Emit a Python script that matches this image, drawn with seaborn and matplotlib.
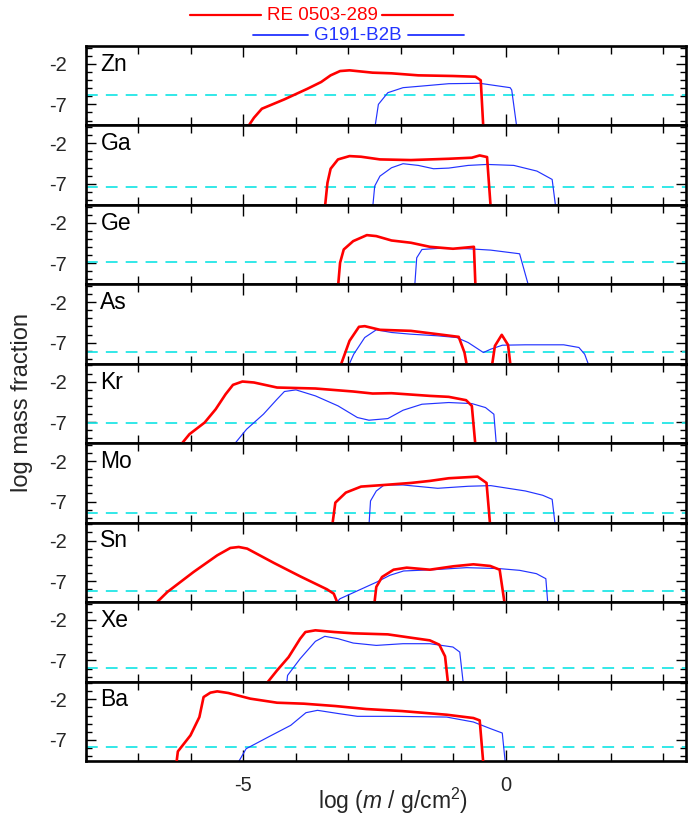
import numpy as np
import pandas as pd
import matplotlib
matplotlib.use("Agg")
import matplotlib.pyplot as plt
from matplotlib.lines import Line2D
from matplotlib.ticker import MultipleLocator, FixedLocator
import seaborn as sns

sns.set_theme(style="white")
plt.rcParams['font.family'] = ['Liberation Sans', 'DejaVu Sans']
plt.rcParams['axes.unicode_minus'] = False
plt.rcParams['mathtext.fontset'] = 'custom'
plt.rcParams['mathtext.rm'] = 'Liberation Sans'
plt.rcParams['mathtext.it'] = 'Liberation Sans:italic'

elements = ["Zn", "Ga", "Ge", "As", "Kr", "Mo", "Sn", "Xe", "Ba"]
solar = [-5.85, -7.35, -6.85, -8.15, -7.1, -8.4, -8.23, -7.94, -7.92]
star_names = ["RE 0503-289", "G191-B2B"]
yticks = [-2, -7]
xticks = [-5, 0]

# RE 0503-289 (red)
zn_re_x = [-4.94, -4.8, -4.65, -4.22, -3.78, -3.52, -3.34, -3.16, -2.98, -2.54, -2.18, -1.67, -1.01, -0.58, -0.48, -0.43]
zn_re_y = [-10, -8.65, -7.54, -6.38, -5.07, -4.24, -3.42, -2.89, -2.8, -3.09, -3.17, -3.42, -3.5, -3.59, -4.04, -10]
ga_re_x = [-3.45, -3.4, -3.34, -3.2, -2.98, -2.76, -2.4, -1.81, -1.09, -0.65, -0.5, -0.36, -0.29]
ga_re_y = [-10, -6.87, -5.14, -3.99, -3.58, -3.66, -3.99, -4.07, -3.91, -3.78, -3.5, -3.7, -10]
ge_re_x = [-3.2, -3.16, -3.09, -2.91, -2.65, -2.47, -2.18, -1.81, -1.45, -1.01, -0.61, -0.58]
ge_re_y = [-10, -6.94, -5.3, -4.27, -3.53, -3.65, -4.19, -4.47, -4.97, -5.21, -4.97, -10]
as_re_x = [-3.16, -2.98, -2.8, -2.69, -2.4, -1.81, -1.3, -0.9, -0.79, -0.74, -0.27, -0.21, -0.08, 0.04, 0.09]
as_re_y = [-10, -6.77, -5.04, -4.96, -5.41, -5.54, -5.95, -6.28, -8.21, -10, -10, -7.39, -6.03, -7.27, -10]
kr_re_x = [-6.22, -6.03, -5.74, -5.53, -5.34, -5.2, -5.02, -4.8, -4.36, -3.63, -2.91, -2.54, -2.18, -1.45, -1.09, -0.76, -0.65, -0.58]
kr_re_y = [-10, -8.49, -7.05, -5.41, -3.55, -2.4, -1.99, -2.11, -2.73, -2.85, -3.22, -3.47, -3.43, -3.76, -3.88, -4.29, -4.99, -10]
mo_re_x = [-3.31, -3.25, -3.05, -2.76, -2.32, -1.81, -1.45, -1.09, -0.54, -0.37, -0.3]
mo_re_y = [-10, -7.13, -5.89, -5.15, -4.95, -4.7, -4.45, -4.12, -3.92, -4.7, -10]
sn_re_x = [-6.71, -6.45, -5.95, -5.5, -5.25, -5.09, -4.93, -4.42, -3.92, -3.41, -3.28, -3.19,
           -2.51, -2.47, -2.36, -2.14, -1.89, -1.45, -1.0, -0.62, -0.3, -0.12, -0.02]
sn_re_y = [-10, -8.35, -5.88, -3.83, -2.92, -2.8, -3.0, -4.77, -6.42, -8.02, -8.56, -10,
           -10, -7.73, -6.5, -5.6, -5.35, -5.6, -5.18, -4.94, -5.14, -5.6, -10]
xe_re_x = [-4.58, -4.36, -4.14, -3.92, -3.82, -3.63, -3.27, -2.91, -2.25, -1.81, -1.45, -1.27, -1.16, -1.1]
xe_re_y = [-10, -8.22, -6.58, -4.31, -3.49, -3.28, -3.49, -3.65, -3.78, -4.19, -4.52, -5.05, -6.49, -10]
ba_re_x = [-6.28, -6.25, -6.01, -5.84, -5.76, -5.63, -5.5, -5.29, -4.87, -4.36, -3.85, -3.25, -2.66, -1.98, -1.13, -0.62, -0.5, -0.43]
ba_re_y = [-10, -8.42, -6.44, -4.18, -1.71, -1.17, -1.01, -1.21, -1.91, -2.41, -2.53, -2.82, -3.19, -3.44, -3.89, -4.3, -4.59, -10]

# G191-B2B (blue)
zn_g1_x = [-2.5, -2.43, -2.25, -1.96, -1.6, -1.09, -0.5, 0.08, 0.11, 0.21]
zn_g1_y = [-10, -7.0, -5.56, -4.94, -4.74, -4.45, -4.4, -4.94, -5.23, -10]
ga_g1_x = [-2.54, -2.5, -2.4, -2.18, -1.96, -1.67, -1.38, -1.09, -0.72, -0.36, 0.15, 0.59, 0.88, 0.95]
ga_g1_y = [-10, -7.28, -6.05, -5.02, -4.52, -4.73, -5.14, -5.06, -4.73, -4.61, -4.73, -5.43, -6.46, -10]
ge_g1_x = [-1.74, -1.7, -1.6, -1.3, -0.72, -0.29, 0.26, 0.44]
ge_g1_y = [-10, -6.33, -5.3, -5.17, -5.21, -5.38, -5.83, -10]
as_g1_x = [-3.01, -2.9, -2.69, -2.47, -2.18, -1.81, -1.3, -0.94, -0.72, -0.43, -0.29, -0.07, 0.37, 1.1, 1.39, 1.5, 1.59]
as_g1_y = [-10, -8.42, -6.36, -5.41, -5.74, -5.95, -6.15, -6.36, -6.98, -8.21, -7.8, -7.31, -7.26, -7.26, -7.59, -8.42, -10]
kr_g1_x = [-5.21, -4.94, -4.62, -4.36, -4.22, -4.0, -3.63, -3.2, -2.83, -2.61, -2.25, -1.96, -1.6, -1.09, -0.65, -0.39, -0.23, -0.18]
kr_g1_y = [-10, -7.87, -6.02, -4.17, -3.22, -3.02, -3.76, -4.99, -6.43, -6.76, -6.56, -5.53, -4.79, -4.58, -4.71, -5.2, -6.02, -10]
mo_g1_x = [-2.61, -2.58, -2.47, -2.32, -1.96, -1.3, -0.72, -0.29, 0.37, 0.7, 0.88, 0.94]
mo_g1_y = [-10, -6.92, -5.69, -4.95, -4.95, -5.36, -5.11, -5.03, -5.69, -6.22, -6.72, -10]
sn_g1_x = [-3.28, -3.16, -2.46, -2.21, -1.95, -1.38, -0.75, -0.12, 0.26, 0.58, 0.76, 0.8]
sn_g1_y = [-10, -9.18, -7.12, -6.29, -5.76, -5.6, -5.35, -5.47, -5.68, -6.09, -6.71, -10]
xe_g1_x = [-4.18, -4.16, -3.92, -3.63, -3.45, -3.2, -2.91, -2.47, -1.96, -1.45, -1.01, -0.88, -0.81]
xe_g1_y = [-10, -8.84, -6.78, -4.64, -4.02, -4.31, -4.85, -5.14, -4.93, -4.93, -5.34, -5.96, -10]
ba_g1_x = [-5.12, -4.95, -4.53, -4.1, -3.81, -3.59, -3.17, -2.83, -2.15, -1.13, -0.62, -0.29, -0.07, -0.01]
ba_g1_y = [-10, -8.09, -6.65, -5.2, -3.64, -3.35, -3.77, -4.09, -4.09, -4.18, -4.79, -5.62, -6.15, -10]

re_data = {"Zn": (zn_re_x, zn_re_y), "Ga": (ga_re_x, ga_re_y), "Ge": (ge_re_x, ge_re_y),
           "As": (as_re_x, as_re_y), "Kr": (kr_re_x, kr_re_y), "Mo": (mo_re_x, mo_re_y),
           "Sn": (sn_re_x, sn_re_y), "Xe": (xe_re_x, xe_re_y), "Ba": (ba_re_x, ba_re_y)}
g1_data = {"Zn": (zn_g1_x, zn_g1_y), "Ga": (ga_g1_x, ga_g1_y), "Ge": (ge_g1_x, ge_g1_y),
           "As": (as_g1_x, as_g1_y), "Kr": (kr_g1_x, kr_g1_y), "Mo": (mo_g1_x, mo_g1_y),
           "Sn": (sn_g1_x, sn_g1_y), "Xe": (xe_g1_x, xe_g1_y), "Ba": (ba_g1_x, ba_g1_y)}

RED = "#ff0000"
BLUE = "#2233ff"
CYAN = "#22e6e6"

fig = plt.figure(figsize=(7.0, 8.16), dpi=100)
left, right = 86 / 700, 686 / 700
top, bottom = 1 - 46 / 816, 1 - 761 / 816
axes = fig.subplots(len(elements), 1, sharex=True,
                    gridspec_kw=dict(left=left, right=right, top=top, bottom=bottom, hspace=0))

for i, (ax, el) in enumerate(zip(axes, elements)):
    gx, gy = g1_data[el]
    rx, ry = re_data[el]
    dfg = pd.DataFrame({"x": gx, "y": gy})
    dfr = pd.DataFrame({"x": rx, "y": ry})
    ax.axhline(solar[i], color=CYAN, lw=1.3, dashes=(6.5, 4.5), zorder=1)
    sns.lineplot(data=dfg, x="x", y="y", ax=ax, sort=False, estimator=None,
                 color=BLUE, lw=0.85, zorder=2)
    sns.lineplot(data=dfr, x="x", y="y", ax=ax, sort=False, estimator=None,
                 color=RED, lw=1.9, zorder=3)
    ax.set_xlim(-8.0, 3.43)
    ax.set_ylim(-9.6, 0.2)
    ax.set_ylabel("")
    ax.set_xlabel("")
    ax.yaxis.set_major_locator(FixedLocator(yticks))
    ax.yaxis.set_minor_locator(MultipleLocator(1))
    ax.xaxis.set_major_locator(FixedLocator(xticks))
    ax.xaxis.set_minor_locator(MultipleLocator(1))
    ax.tick_params(which="both", direction="in", top=True, right=True, bottom=True, left=True,
                   color="black", width=1.0)
    ax.tick_params(axis="x", which="major", length=8)
    ax.tick_params(axis="x", which="minor", length=6)
    ax.tick_params(axis="y", which="major", length=7)
    ax.tick_params(axis="y", which="minor", length=4)
    ax.tick_params(axis="y", which="major", labelsize=14.5, pad=14)
    ax.tick_params(axis="x", which="major", labelsize=14.5, pad=11)
    for s in ax.spines.values():
        s.set_color("black")
        s.set_linewidth(1.9)
    ax.text(0.024, 0.77, el, transform=ax.transAxes, fontsize=16.5, va="center", ha="left",
            color="black")
    if ax.get_legend() is not None:
        ax.get_legend().remove()
    if i < len(elements) - 1:
        ax.tick_params(axis="x", labelbottom=False)

fig.text(22 / 700, 1 - 403 / 816, "log mass fraction", rotation=90, fontsize=17,
         ha="center", va="center")
fig.text(393 / 700, 1 - 801 / 816, r"log ($m$ / g/cm$^2$)", fontsize=16.5,
         ha="center", va="center")

# legend-like header
def hline(x0, x1, y, color, lw):
    fig.add_artist(Line2D([x0 / 700, x1 / 700], [1 - y / 816, 1 - y / 816],
                          color=color, lw=lw, transform=fig.transFigure))

hline(190, 261, 15, RED, 1.6)
hline(382, 453, 15, RED, 1.6)
fig.text(322 / 700, 1 - 15 / 816, star_names[0], color=RED, fontsize=13.5, ha="center", va="center")
hline(253, 308, 35, BLUE, 1.3)
hline(408, 464, 35, BLUE, 1.3)
fig.text(358 / 700, 1 - 35 / 816, star_names[1], color=BLUE, fontsize=13.5, ha="center", va="center")

fig.savefig("out.png", dpi=100)
